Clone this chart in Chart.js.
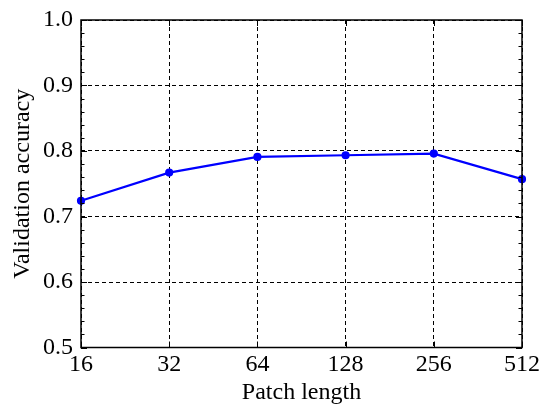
<!DOCTYPE html>
<html>
<head>
<meta charset="utf-8">
<script src="https://cdn.jsdelivr.net/npm/chart.js@4"></script>
<style>
html,body{margin:0;padding:0;background:#fff;}
#wrap{width:548px;height:407px;}
</style>
</head>
<body>
<div id="wrap"><canvas id="c" width="548" height="407"></canvas></div>
<script>
const patchLengths = ['16', '32', '64', '128', '256', '512'];
const accuracy = [0.724, 0.767, 0.791, 0.7935, 0.796, 0.757];
const yTicks = [0.5, 0.6, 0.7, 0.8, 0.9, 1.0];

const FONT = "'Liberation Serif', 'DejaVu Serif', serif";

const frameTicks = {
  id: 'frameTicks',
  afterDraw(chart) {
    const {ctx, chartArea: a, scales: {x, y}} = chart;
    ctx.save();
    ctx.strokeStyle = '#000';
    ctx.lineWidth = 1;
    for (let i = 0; i <= 25; i++) {
      const v = 0.5 + i * 0.02;
      const py = Math.round(y.getPixelForValue(v)) + 0.5;
      const len = (i % 5 === 0) ? 6 : 3.5;
      ctx.beginPath();
      ctx.moveTo(a.left, py); ctx.lineTo(a.left + len, py);
      ctx.moveTo(a.right, py); ctx.lineTo(a.right - len, py);
      ctx.stroke();
    }
    patchLengths.forEach((_, i) => {
      const px = Math.round(x.getPixelForValue(i)) + 0.5;
      ctx.beginPath();
      ctx.moveTo(px, a.bottom); ctx.lineTo(px, a.bottom - 6);
      ctx.moveTo(px, a.top); ctx.lineTo(px, a.top + 6);
      ctx.stroke();
    });
    ctx.lineWidth = 1.5;
    ctx.strokeRect(a.left, a.top, a.right - a.left, a.bottom - a.top);
    ctx.restore();
  }
};

new Chart(document.getElementById('c'), {
  type: 'line',
  data: {
    labels: patchLengths,
    datasets: [{
      data: accuracy,
      borderColor: '#0000ff',
      backgroundColor: '#0000ff',
      borderWidth: 2.2,
      pointRadius: 3,
      pointHoverRadius: 3,
      tension: 0
    }]
  },
  options: {
    responsive: false,
    animation: false,
    layout: {padding: {top: 19, right: 26, left: 0, bottom: 0}},
    plugins: {legend: {display: false}, tooltip: {enabled: false}},
    scales: {
      x: {
        type: 'category',
        offset: false,
        afterFit(s) { s.height = 59.5; },
        grid: {color: '#000', lineWidth: 1, drawTicks: false},
        border: {display: false, dash: [4, 3]},
        ticks: {color: '#000', padding: 3, font: {family: FONT, size: 24}, maxRotation: 0},
        title: {display: true, text: 'Patch length', color: '#000', font: {family: FONT, size: 24}, padding: {top: 0, bottom: 0}}
      },
      y: {
        min: 0.5, max: 1.0,
        afterFit(s) { s.width = 81; },
        afterBuildTicks(s) { s.ticks = yTicks.map(v => ({value: v})); },
        grid: {color: '#000', lineWidth: 1, drawTicks: false},
        border: {display: false, dash: [4, 3]},
        ticks: {color: '#000', padding: 8, font: {family: FONT, size: 24, lineHeight: 1}, callback: v => v.toFixed(1)},
        title: {display: true, text: 'Validation accuracy', color: '#000', font: {family: FONT, size: 24}, padding: {top: 8, bottom: 0}}
      }
    }
  },
  plugins: [frameTicks]
});
</script>
</body>
</html>
